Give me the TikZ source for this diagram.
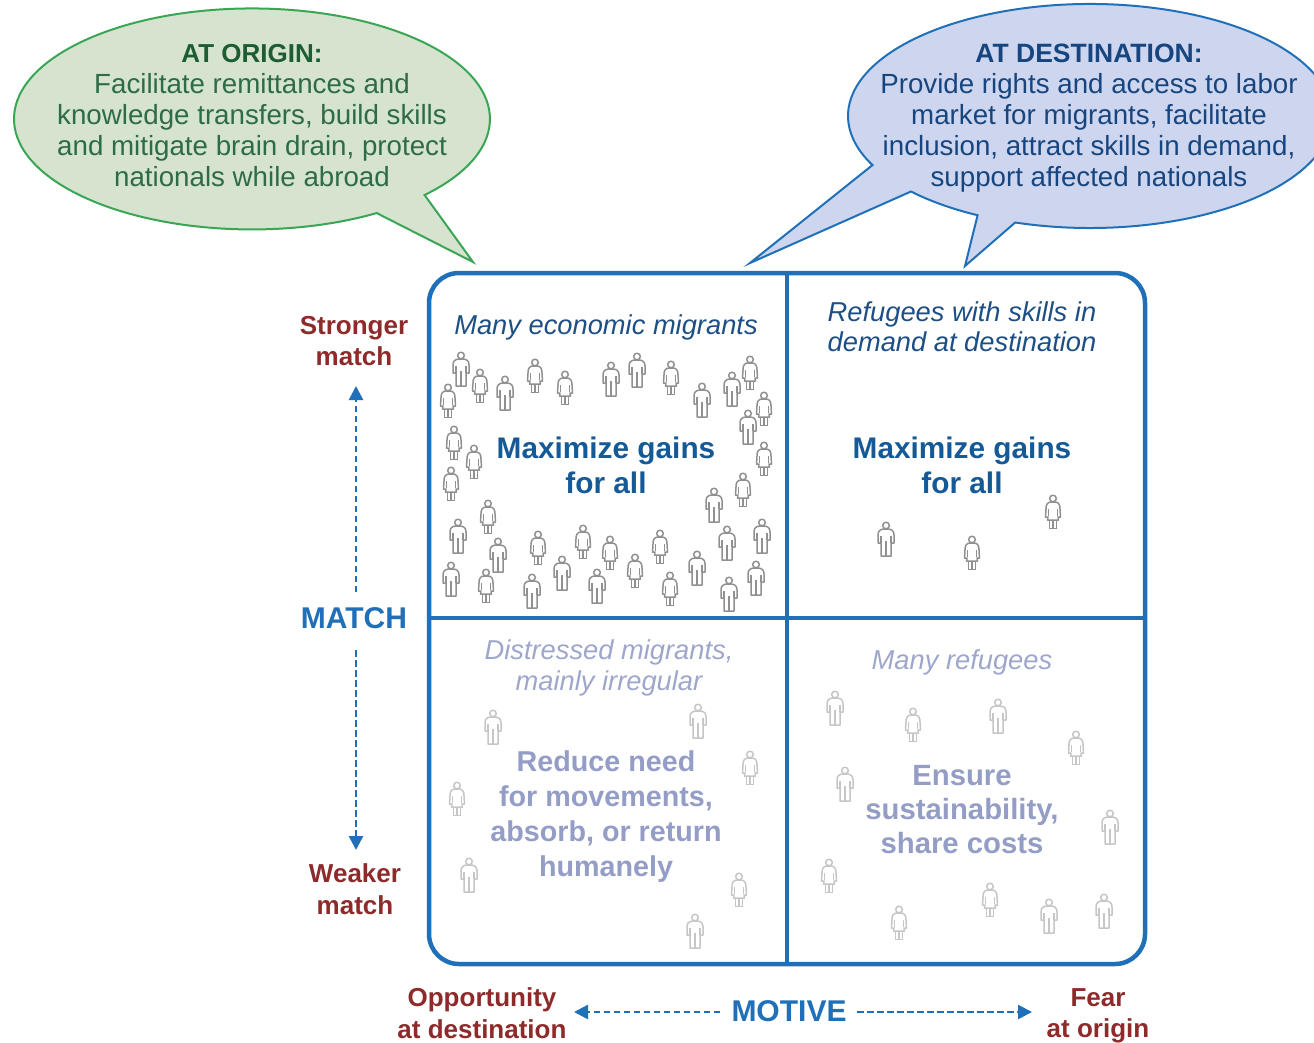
\documentclass[tikz,border=0pt]{standalone}
\usepackage{fontspec}
\setmainfont{Liberation Sans}
\usetikzlibrary{arrows.meta}
\definecolor{boxblue}{HTML}{1F70B8}
\definecolor{greenfill}{HTML}{D5E3CF}
\definecolor{greenline}{HTML}{3AA655}
\definecolor{greenhead}{HTML}{1E5C34}
\definecolor{greentext}{HTML}{2E6B48}
\definecolor{bluefill}{HTML}{CDD6EE}
\definecolor{bluehead}{HTML}{16457F}
\definecolor{darkblue}{HTML}{155A96}
\definecolor{italblue}{HTML}{1D4F85}
\definecolor{paleblue}{HTML}{9EA6CB}
\definecolor{palehead}{HTML}{949DC6}
\definecolor{matchred}{HTML}{8F2A2A}
\definecolor{peoplegray}{HTML}{909090}
\definecolor{palegray}{HTML}{C6C6C6}
\tikzset{
  txt/.style={inner sep=0pt,outer sep=2pt,align=center,font=\fontsize{27.7}{31}\selectfont},
  calloutA/.style={txt,text=greentext},
  calloutB/.style={txt,text=bluehead},
  topital/.style={txt,text=italblue,font=\fontsize{27.3}{30}\selectfont\itshape},
  lowital/.style={txt,text=paleblue,font=\fontsize{27.3}{31}\selectfont\itshape},
  gain/.style={txt,text=darkblue,font=\fontsize{29.8}{35}\selectfont\bfseries},
  palegain/.style={txt,text=palehead,font=\fontsize{28.7}{35}\selectfont\bfseries},
  palegainb/.style={txt,text=palehead,font=\fontsize{29.3}{34}\selectfont\bfseries},
  axisred/.style={txt,text=matchred,font=\fontsize{26}{31.5}\selectfont\bfseries},
  axisblue/.style={txt,text=boxblue,font=\fontsize{30}{34}\selectfont\bfseries},
  dasharrow/.style={boxblue,line width=2.5pt,dash pattern=on 6.5pt off 3.5pt,-{Triangle[length=14pt,width=14pt]}},
  person/.style={line width=1.5pt,line join=round,fill=white},
  man/.pic={
    \draw[person,pic actions] (0,-13.5) circle (3.3);
    \draw[person,pic actions] (-2.5,-10) .. controls (-6,-9.5) and (-8,-8) .. (-8,-4)
      -- (-8,4) -- (-5,4) -- (-5,17) -- (5,17) -- (5,4) -- (8,4) -- (8,-4)
      .. controls (8,-8) and (6,-9.5) .. (2.5,-10) -- cycle;
    \draw[line width=1.2pt,pic actions] (0,2) -- (0,17) (-5,4) -- (-5,-3) (5,4) -- (5,-3);
  },
  woman/.pic={
    \draw[person,pic actions] (0,-13.5) circle (3.3);
    \draw[person,pic actions] (-2.5,-10) .. controls (-6,-9.5) and (-7,-7) .. (-7,-3)
      -- (-7.5,5) -- (-5,5) -- (-5.5,8) -- (5.5,8) -- (5,5) -- (7.5,5) -- (7,-3)
      .. controls (7,-7) and (6,-9.5) .. (2.5,-10) -- cycle;
    \draw[line width=1.2pt,pic actions] (-3.8,8) -- (-3.8,16.5) -- (3.8,16.5) -- (3.8,8) (0,8) -- (0,16.5) (-4.5,4) -- (-4.5,-3) (4.5,4) -- (4.5,-3);
  }
}
\begin{document}
\begin{tikzpicture}[x=1pt,y=-1pt]
\path[use as bounding box,clip] (0,0) rectangle (1314,1042);
% callouts
\draw[fill=greenfill,draw=greenline,line width=2pt,line join=miter]
  (424.6,195) arc[start angle=43.5,end angle=-301.6,x radius=238,y radius=110.5]
  -- (473,262) -- cycle;
\draw[fill=bluefill,draw=boxblue,line width=2pt,line join=miter]
  (1015.2,222.5) arc[start angle=108,end angle=-206,x radius=242,y radius=112]
  -- (750,263) -- (911,191.5)
  arc[start angle=137.6,end angle=117.6,x radius=242,y radius=112]
  -- (965,266) -- cycle;
\node[calloutA] (origin) at (252,116) {{\fontsize{26}{31}\selectfont\bfseries\color{greenhead}AT ORIGIN:}\\Facilitate remittances and\\knowledge transfers, build skills\\and mitigate brain drain, protect\\nationals while abroad};
\node[calloutB] (dest) at (1089,118) {{\fontsize{26.5}{31}\selectfont\bfseries AT DESTINATION:}\\Provide rights and access to labor\\market for migrants, facilitate\\inclusion, attract skills in demand,\\support affected nationals};
% matrix
\draw[boxblue,line width=4.5pt,rounded corners=30pt] (429,273) rectangle (1145,964);
\draw[boxblue,line width=4.5pt] (787,273) -- (787,964) (429,618) -- (1145,618);
% cell text
\node[topital] (q1) at (606,327) {Many economic migrants};
\node[topital] (q2) at (962,327) {Refugees with skills in\\demand at destination};
\node[gain] (g1) at (606,465) {Maximize gains\\for all};
\node[gain] (g2) at (962,465) {Maximize gains\\for all};
\node[lowital] (q3) at (609,668) {Distressed migrants,\\mainly irregular};
\node[lowital] (q4) at (962,662) {Many refugees};
\node[palegain] (g3) at (606,817) {Reduce need\\for movements,\\absorb, or return\\humanely};
\node[palegainb] (g4) at (962,810) {Ensure\\sustainability,\\share costs};
% axis labels
\node[axisred] (stronger) at (354,341) {Stronger\\match};
\node[axisblue] (match) at (354,618) {MATCH};
\node[axisred] (weaker) at (355,889) {Weaker\\match};
\node[axisred] (opp) at (482,1013) {Opportunity\\at destination};
\node[axisblue] (motive) at (789,1011) {MOTIVE};
\node[axisred] (fear) at (1098,1016) {Fear\\at origin};
\coordinate (upEnd) at (356,386);
\coordinate (upStart) at (356,592);
\coordinate (downStart) at (356,650);
\coordinate (downEnd) at (356,850);
\coordinate (leftStart) at (720,1012);
\coordinate (leftEnd) at (574,1012);
\coordinate (rightStart) at (857,1012);
\coordinate (rightEnd) at (1032,1012);
\draw[dasharrow] (upStart) -- (upEnd);
\draw[dasharrow] (downStart) -- (downEnd);
\draw[dasharrow] (leftStart) -- (leftEnd);
\draw[dasharrow] (rightStart) -- (rightEnd);
% people
\foreach \px/\py in {461/369,505/393,611/379,637/370,702/400,732/389,748/427,714/505,458/536,498/555,727/543,762/536,451/579,532/591,562/573,597/586,697/568,729/594,756/578,886/539}
  \pic[draw=peoplegray] at (\px,\py) {man};
\foreach \px/\py in {480/386,448/401,535/376,565/388,671/378,750/373,764/409,764/459,743/490,454/443,474/462,451/484,488/517,538/548,583/542,610/553,660/547,486/586,635/571,670/589,972/553,1053/512}
  \pic[draw=peoplegray] at (\px,\py) {woman};
\foreach \px/\py in {493/727,698/721,469/875,695/931,835/708,998/716,845/784,1110/827,1049/916,1104/911}
  \pic[draw=palegray] at (\px,\py) {man};
\foreach \px/\py in {750/768,457/799,739/890,913/725,1076/748,829/876,899/923,990/900}
  \pic[draw=palegray] at (\px,\py) {woman};
\end{tikzpicture}
\end{document}
